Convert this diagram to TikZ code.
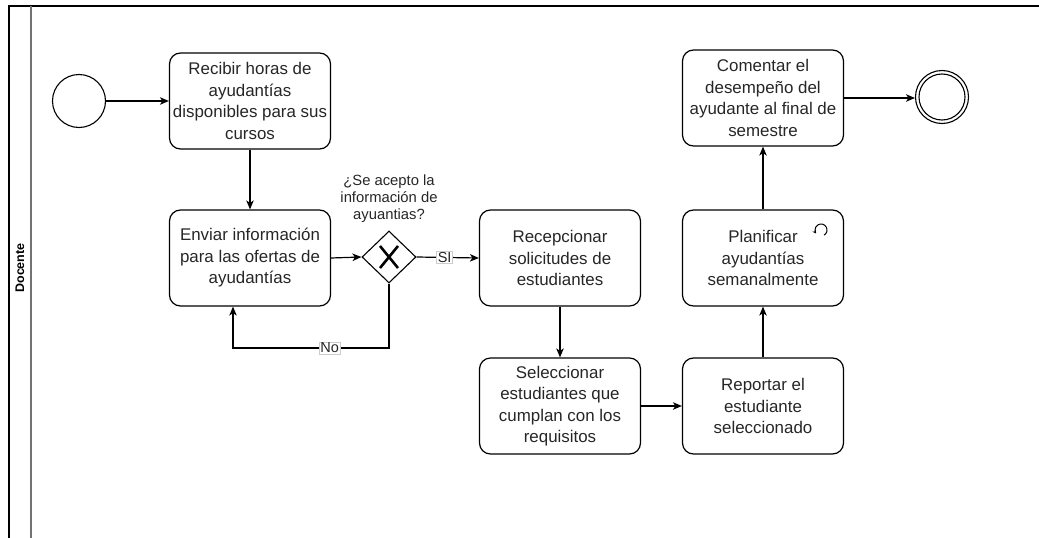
\documentclass[tikz,border=0pt]{standalone}
\usepackage{fontspec}
\setmainfont{Liberation Sans}
\usetikzlibrary{shapes.geometric,arrows.meta,calc}
\definecolor{txt}{HTML}{262626}
\begin{document}
\begin{tikzpicture}[x=1pt,y=-1pt,
  task/.style={draw,line width=1.2pt,rounded corners=11pt,minimum width=161pt,minimum height=96pt,align=center,inner sep=0pt,text=txt,font=\fontsize{16.9}{21.5}\selectfont},
  ev/.style={draw,circle,line width=1.1pt,minimum size=53pt,inner sep=0pt},
  flow/.style={line width=1.2pt,-{Stealth[length=9pt,width=7.5pt,inset=2.5pt]}},
  lbl/.style={fill=white,draw=black!20,line width=0.6pt,inner sep=1pt,text=txt,font=\fontsize{14.5}{16}\selectfont}]
\useasboundingbox (0,0) rectangle (1039,538);
% pool
\draw[line width=1.2pt] (1039,6) -- (9,6) -- (9,538);
\draw[line width=1.6pt,black!55] (31,6) -- (31,538);
\node[rotate=90,font=\fontsize{12.5}{14}\selectfont\bfseries] (pool) at (20,268) {Docente};
% events
\node[ev] (start) at (79,101) {};
\node[ev] (end) at (942,97) {};
\draw[line width=1.1pt] (end.center) circle (23pt);
% tasks
\node[task] (t1) at (250,101) {Recibir horas de\\ayudantías\\disponibles para sus\\cursos};
\node[task] (t2) at (250,258) {Enviar información\\para las ofertas de\\ayudantías};
\node[task] (t3) at (560,258) {Recepcionar\\solicitudes de\\estudiantes};
\node[task] (t4) at (560,406) {Seleccionar\\estudiantes que\\cumplan con los\\requisitos};
\node[task] (t5) at (763,406) {Reportar el\\estudiante\\seleccionado};
\node[task] (t6) at (763,258) {Planificar\\ayudantías\\semanalmente};
\node[task] (t7) at (763,98) {Comentar el\\desempeño del\\ayudante al final de\\semestre};
% loop marker
\draw[line width=1pt,-{Stealth[length=3.5pt,width=4pt]}] ($(821,230)+(60:6)$) arc[start angle=60,end angle=-215,radius=6];
% gateway
\node[draw,diamond,line width=1.1pt,minimum width=54pt,minimum height=52pt,inner sep=0pt] (gw) at (389,257) {};
\draw[line width=2.6pt] ($(gw)+(-9,-11)$) -- ($(gw)+(9,11)$);
\draw[line width=2.6pt] ($(gw)+(-9,11)$) -- ($(gw)+(9,-11)$);
\node[align=center,text=txt,font=\fontsize{14.8}{17}\selectfont] (q) at (389,199) {¿Se acepto la\\información de\\ayuantias?};
% flows
\coordinate (nb) at (233,348);
\draw[flow] (start) -- (start -| t1.west);
\draw[flow] (t1) -- (t2);
\draw[flow] (t2.east) -- (gw.west);
\draw[flow] (gw.east) -- node[lbl,pos=0.45]{SI} (t3.west);
\draw[flow] (gw.south) -- (gw.south |- nb) -- node[lbl,pos=0.38]{No} (nb) -- (t2.south -| nb);
\draw[flow] (t3) -- (t4);
\draw[flow] (t4) -- (t5);
\draw[flow] (t5) -- (t6);
\draw[flow] (t6) -- (t7);
\draw[flow] (t7.east) -- (end.west |- t7.east);
\end{tikzpicture}
\end{document}
